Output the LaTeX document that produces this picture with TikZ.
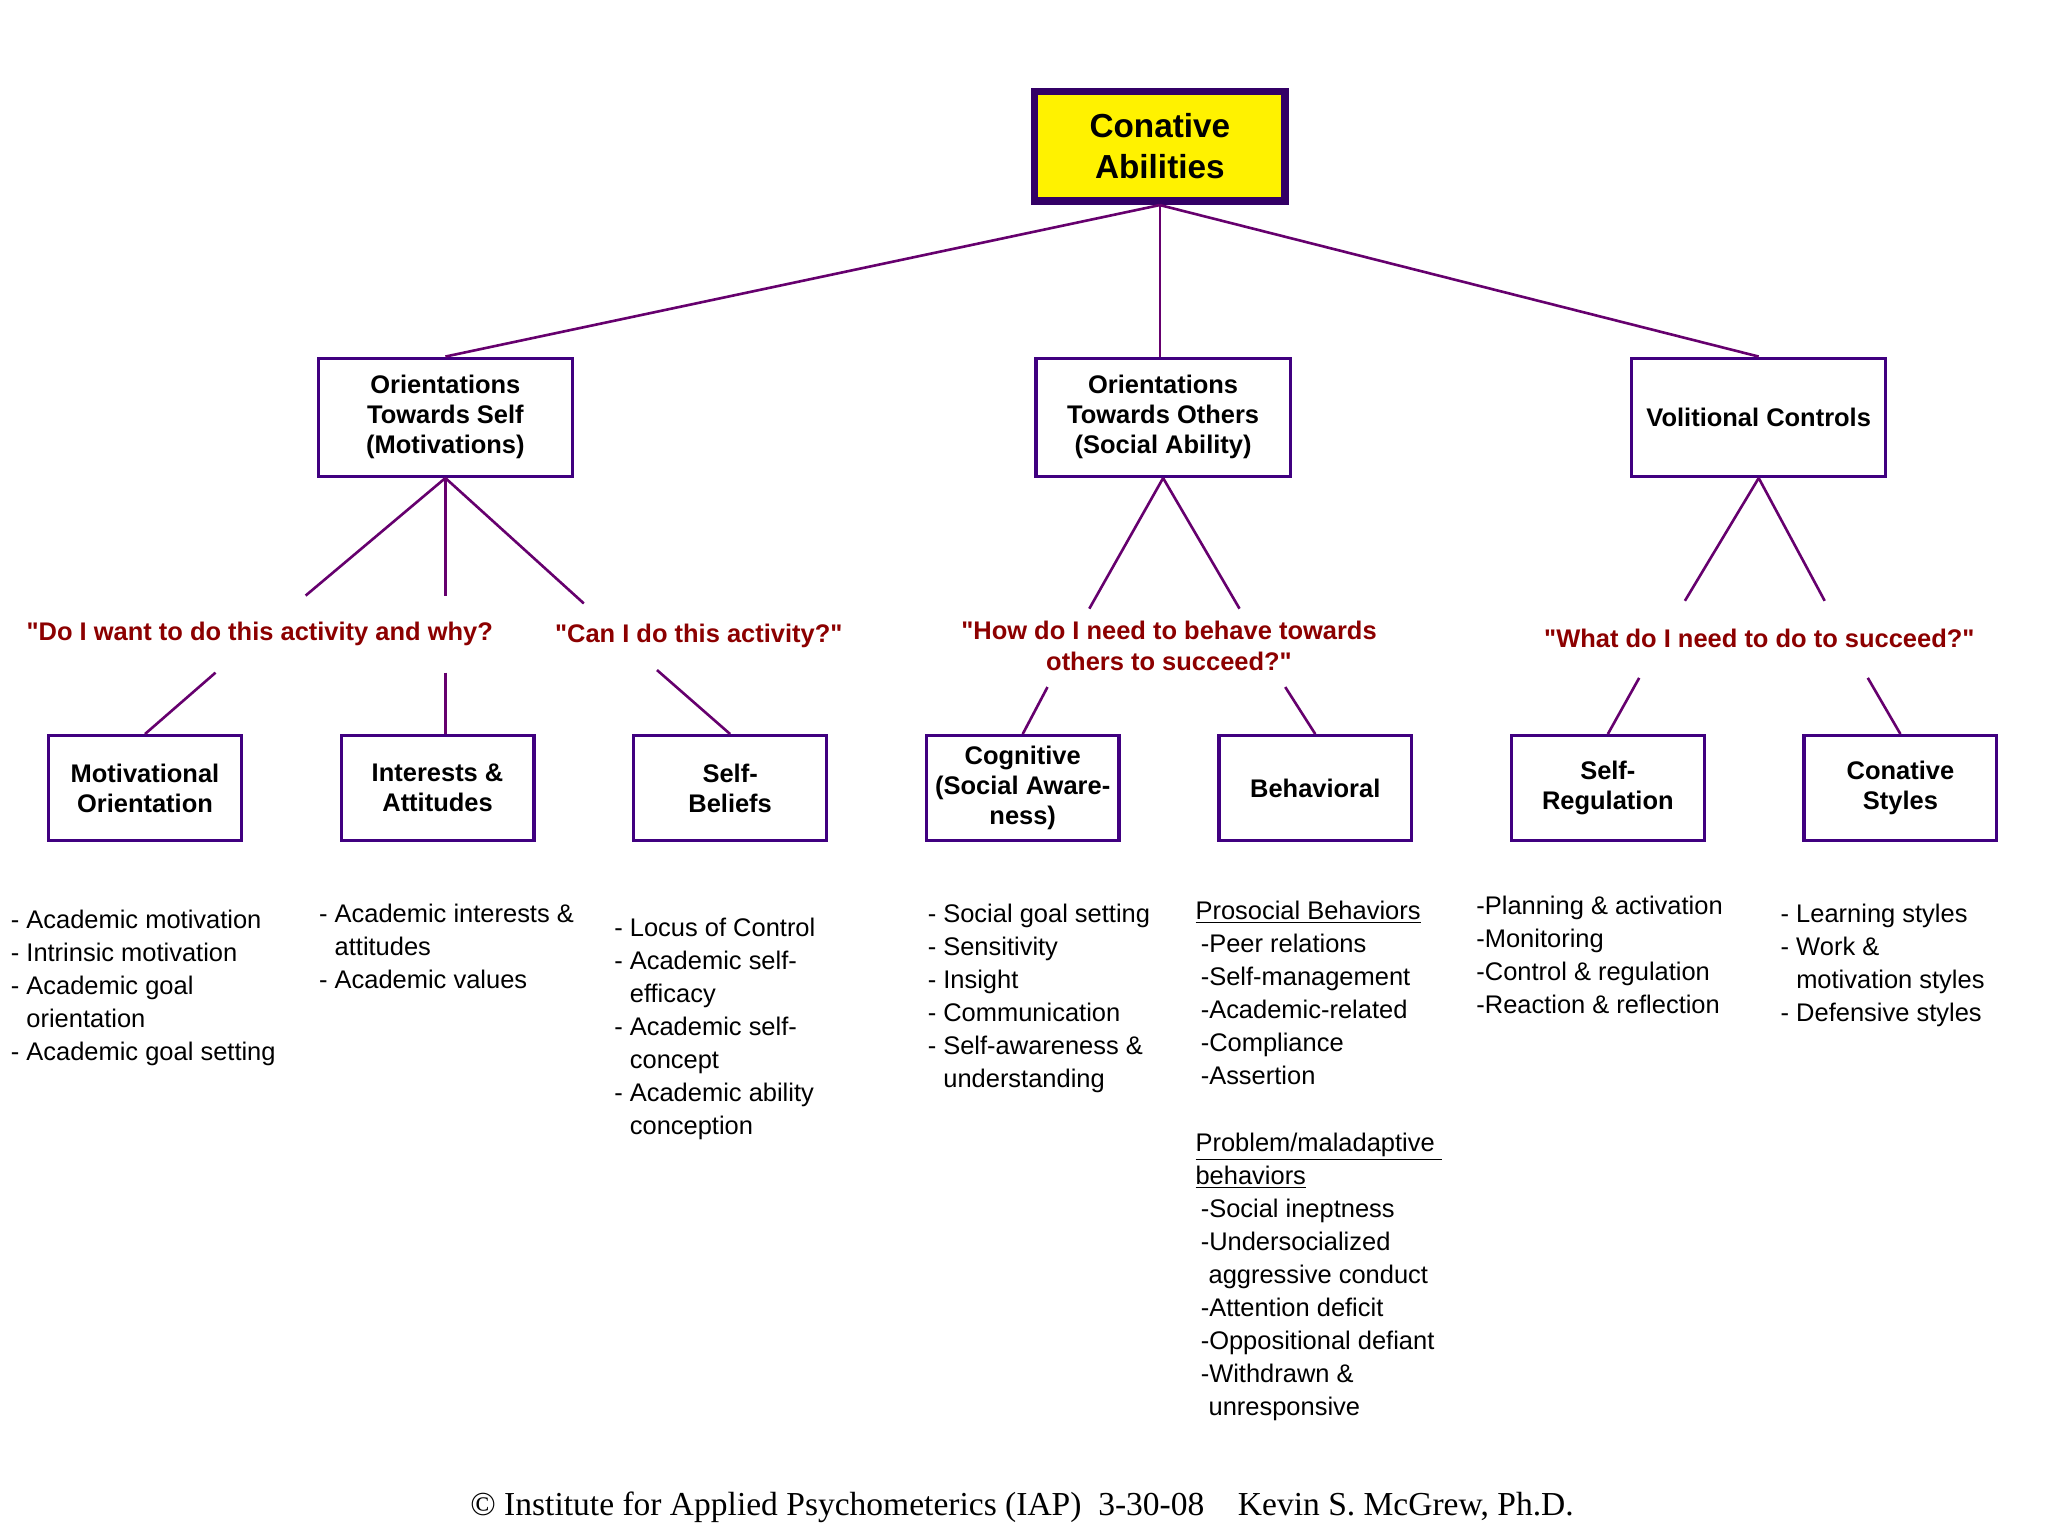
\documentclass[tikz,border=0pt]{standalone}
\usepackage{fontspec}
\setmainfont{Liberation Sans}
\newfontfamily\serifft{Liberation Serif}
\definecolor{topc}{RGB}{51,0,102}
\definecolor{boxc}{RGB}{64,0,128}
\definecolor{connc}{RGB}{102,0,110}
\definecolor{qc}{RGB}{140,0,0}
\newcommand{\cbfont}{\fontsize{11.7}{13.8}\selectfont\bfseries}
\newcommand{\bdfont}{\fontsize{11.7}{14}\selectfont}
\newcommand{\pmhead}{\underline{Problem/maladaptive\ }}
\newcommand{\qq}{\textquotedbl}
\begin{document}
\begin{tikzpicture}[x=0.6pt,y=-0.6pt,
  conn/.style={draw=connc, line width=1.2pt},
  topbox/.style={draw=topc, line width=3.6pt, fill=yellow, align=center, inner sep=0pt,
    minimum width=115.2pt, minimum height=50.4pt, font=\fontsize{15.3}{18.6}\selectfont\bfseries},
  midbox/.style={draw=boxc, line width=1.5pt, fill=white, align=center, inner sep=0pt,
    minimum width=116.7pt, minimum height=54.3pt, font=\cbfont},
  lowbox/.style={draw=boxc, line width=1.5pt, fill=white, align=center, inner sep=0pt,
    minimum width=88.5pt, minimum height=48.3pt, font=\cbfont},
  qtext/.style={text=qc, font=\cbfont, align=center, inner sep=0pt},
  bodyt/.style={anchor=base west, inner sep=0pt, font=\bdfont}]
\useasboundingbox (0,0) rectangle (1568,1176);
\fill[white] (0,0) rectangle (1568,1176);

% top and level 2
\node[topbox] (root) at (888,112) {Conative\\Abilities};
\node[midbox] (self) at (341,319.5) {Orientations\\Towards Self\\(Motivations)};
\node[midbox] (others) at (890.5,319.5) {Orientations\\Towards Others\\(Social Ability)};
\node[midbox] (vol) at (1346.5,319.5) {Volitional Controls};

\draw[conn] (root.south) -- (self.north);
\draw[conn] (root.south) -- (root.south |- others.north);
\draw[conn] (root.south) -- (vol.north);

% questions
\node[qtext, anchor=west] (q1) at (20,485) {\qq Do I want to do this activity and why?};
\node[qtext] (q2) at (535,487) {\qq Can I do this activity?\qq};
\node[qtext] (q3) at (895,494.5) {\qq How do I need to behave towards\\others to succeed?\qq};
\node[qtext] (q4) at (1347,489) {\qq What do I need to do to succeed?\qq};

% level 3
\node[lowbox] (mot) at (111,603.5) {Motivational\\Orientation};
\node[lowbox] (int) at (335,603.5) {Interests \&\\Attitudes};
\node[lowbox] (sb) at (559,603.5) {Self-\\Beliefs};
\node[lowbox] (cog) at (783,603.5) {Cognitive\\(Social Aware-\\ness)};
\node[lowbox] (beh) at (1007,603.5) {Behavioral};
\node[lowbox] (sr) at (1231,603.5) {Self-\\Regulation};
\node[lowbox] (cs) at (1455,603.5) {Conative\\Styles};

% free connector ends
\coordinate (a1) at (234,456);
\coordinate (a2) at (341,456);
\coordinate (a3) at (447,462);
\coordinate (b1) at (165,515);
\coordinate (b2) at (341,515);
\coordinate (b3) at (503,513);
\coordinate (c1) at (834,466);
\coordinate (c2) at (949,466);
\coordinate (d1) at (802,526);
\coordinate (d2) at (984,526);
\coordinate (e1) at (1290,460);
\coordinate (e2) at (1397,460);
\coordinate (f1) at (1255,519);
\coordinate (f2) at (1430,519);

\draw[conn] (self.south) -- (a1);
\draw[conn] (self.south) -- (a2);
\draw[conn] (self.south) -- (a3);
\draw[conn] (b1) -- (mot.north);
\draw[conn] (b2) -- (b2 |- int.north);
\draw[conn] (b3) -- (sb.north);
\draw[conn] (others.south) -- (c1);
\draw[conn] (others.south) -- (c2);
\draw[conn] (d1) -- (cog.north);
\draw[conn] (d2) -- (beh.north);
\draw[conn] (vol.south) -- (e1);
\draw[conn] (vol.south) -- (e2);
\draw[conn] (f1) -- (sr.north);
\draw[conn] (f2) -- (cs.north);

% body lists
\foreach \t [count=\i from 0] in {- Academic motivation, - Intrinsic motivation, - Academic goal, \phantom{- }orientation, - Academic goal setting}
  \node[bodyt] (ca\i) at (8,711+25.3*\i) {\t};
\foreach \t [count=\i from 0] in {- Academic interests \&, \phantom{- }attitudes, - Academic values}
  \node[bodyt] (cb\i) at (244,706+25.3*\i) {\t};
\foreach \t [count=\i from 0] in {- Locus of Control, - Academic self-, \phantom{- }efficacy, - Academic self-, \phantom{- }concept, - Academic ability, \phantom{- }conception}
  \node[bodyt] (cc\i) at (470,717+25.3*\i) {\t};
\foreach \t [count=\i from 0] in {- Social goal setting, - Sensitivity, - Insight, - Communication, - Self-awareness \&, \phantom{- }understanding}
  \node[bodyt] (cd\i) at (710,706+25.3*\i) {\t};
\foreach \xx/\i/\t in {915/0/\underline{Prosocial Behaviors}, 919/1/-Peer relations, 919/2/-Self-management,
    919/3/-Academic-related, 919/4/-Compliance, 919/5/-Assertion, 915/7/\pmhead, 915/8/\underline{behaviors},
    919/9/-Social ineptness, 919/10/-Undersocialized, 925/11/aggressive conduct, 919/12/-Attention deficit,
    919/13/-Oppositional defiant, 919/14/-Withdrawn \&, 925/15/unresponsive}
  \node[bodyt] (ce\i) at (\xx,704+25.33*\i) {\t};
\foreach \t [count=\i from 0] in {-Planning \& activation, -Monitoring, -Control \& regulation, -Reaction \& reflection}
  \node[bodyt] (cf\i) at (1130,700+25.3*\i) {\t};
\foreach \t [count=\i from 0] in {- Learning styles, - Work \&, \phantom{- }motivation styles, - Defensive styles}
  \node[bodyt] (cg\i) at (1363,706+25.3*\i) {\t};

% footer
\node[anchor=base, inner sep=0pt, font=\serifft\fontsize{15.4}{18}\selectfont] (foot) at (782.5,1160)
  {\textcopyright\ Institute for Applied Psychometerics (IAP)\ \ 3-30-08\ \ \ \ Kevin S. McGrew, Ph.D.};
\end{tikzpicture}
\end{document}
